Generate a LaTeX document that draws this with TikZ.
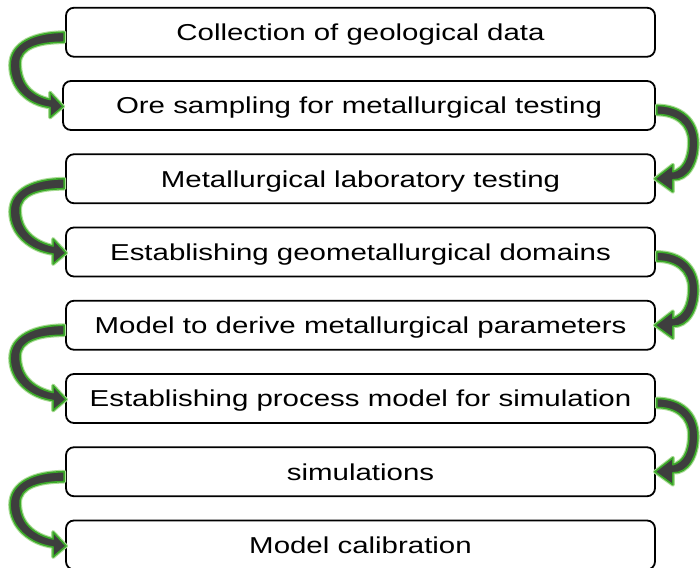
\documentclass[tikz,border=0pt]{standalone}
\usepackage{fontspec}
\setmainfont{Liberation Sans}
\usetikzlibrary{calc}
\definecolor{arrowgreen}{RGB}{58,168,40}
\definecolor{arrowglow}{RGB}{170,220,150}
\definecolor{arrowbody}{RGB}{62,62,62}
\tikzset{
  stepbox/.style={draw=black, line width=1.8pt, rounded corners=8pt,
    minimum width=589pt, minimum height=49pt, inner sep=0pt,
    text height=16.5pt, text depth=0pt,
    text=black, font=\fontsize{23}{28}\selectfont},
  loopbody/.style={fill=arrowbody, draw=arrowgreen, line width=1.6pt, line join=round,
    preaction={draw=arrowglow, line width=3.8pt, line join=round}},
}
% text is set slightly wide
\newcommand\boxtext[1]{\scalebox{1.28}[1]{#1}}
% curved arrow on the left side, from box #1 down to box #2
\newcommand\leftloop[2]{%
  \path[loopbody]
    ($(#1.west)+(-1,0)$) .. controls ($(#1.west)+(-30,0)$) and ($(#1.west)+(-55,10)$) .. ($(#1.west)+(-55,33)$)
    .. controls ($(#1.west)+(-55,56)$) and ($(#2.west)+(-35,-1)$) .. ($(#2.west)+(-12,2)$)
    -- ($(#2.west)+(-12,12)$) -- ($(#2.west)+(1,1)$) -- ($(#2.west)+(-12,-13)$) -- ($(#2.west)+(-12,-6)$)
    .. controls ($(#2.west)+(-30,-10)$) and ($(#1.west)+(-45,52)$) .. ($(#1.west)+(-45,31)$)
    .. controls ($(#1.west)+(-45,16)$) and ($(#1.west)+(-27,10)$) .. ($(#1.west)+(-1,10)$) -- cycle;}
% curved arrow on the right side, from box #1 down to box #2
\newcommand\rightloop[2]{%
  \path[loopbody]
    ($(#1.east)+(1,0)$) .. controls ($(#1.east)+(25,0)$) and ($(#1.east)+(42,14)$) .. ($(#1.east)+(42,38)$)
    .. controls ($(#1.east)+(42,58)$) and ($(#2.east)+(32,2)$) .. ($(#2.east)+(17,1)$)
    -- ($(#2.east)+(17,13)$) -- ($(#2.east)+(-1,0)$) -- ($(#2.east)+(17,-14)$) -- ($(#2.east)+(17,-7)$)
    .. controls ($(#2.east)+(27,-10)$) and ($(#1.east)+(33,54)$) .. ($(#1.east)+(33,36)$)
    .. controls ($(#1.east)+(33,20)$) and ($(#1.east)+(21,9)$) .. ($(#1.east)+(1,9)$) -- cycle;}
\begin{document}
\begin{tikzpicture}[x=1pt, y=-1pt]
  \useasboundingbox[fill=white] (0,0) rectangle (700,567);

  \node[stepbox] (s1) at (360.5, 32.25) {\boxtext{Collection of geological data}};
  \node[stepbox, minimum width=592pt] (s2) at (359, 105.5) {\boxtext{Ore sampling for metallurgical testing}};
  \node[stepbox] (s3) at (360.5, 178.75) {\boxtext{Metallurgical laboratory testing}};
  \node[stepbox] (s4) at (360.5, 252) {\boxtext{Establishing geometallurgical domains}};
  \node[stepbox] (s5) at (360.5, 325.25) {\boxtext{Model to derive metallurgical parameters}};
  \node[stepbox] (s6) at (360.5, 398.5) {\boxtext{Establishing process model for simulation}};
  \node[stepbox] (s7) at (360.5, 471.75) {\boxtext{simulations}};
  \node[stepbox] (s8) at (360.5, 545) {\boxtext{Model calibration}};

  \leftloop{s1}{s2}
  \rightloop{s2}{s3}
  \leftloop{s3}{s4}
  \rightloop{s4}{s5}
  \leftloop{s5}{s6}
  \rightloop{s6}{s7}
  \leftloop{s7}{s8}
\end{tikzpicture}
\end{document}
